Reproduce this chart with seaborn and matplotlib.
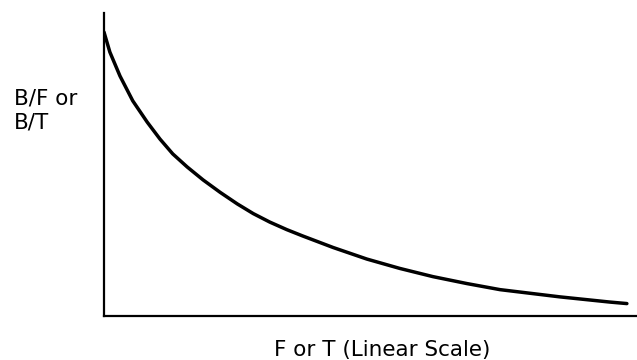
import seaborn as sns
import matplotlib.pyplot as plt
import pandas as pd

# Curve (arbitrary linear units, axes run 0-10)
conc = [0, 0.11, 0.30, 0.54, 0.81, 1.05, 1.29, 1.56, 1.86, 2.18, 2.50, 2.80,
        3.11, 3.43, 3.73, 4.30, 4.93, 5.55, 6.17, 6.81, 7.43, 8.56, 9.49, 9.81]
ratio = [9.37, 8.71, 7.92, 7.10, 6.40, 5.84, 5.35, 4.92, 4.49, 4.08, 3.70, 3.38,
         3.10, 2.85, 2.64, 2.26, 1.88, 1.57, 1.30, 1.07, 0.87, 0.63, 0.46, 0.41]

x_label = "F or T (Linear Scale)"
y_label = "B/F or\nB/T"

sns.set_style("white")
plt.rcParams['font.family'] = ['DejaVu Sans']

df = pd.DataFrame({"conc": conc, "ratio": ratio})

fig = plt.figure(figsize=(6.37, 3.6), dpi=100)
ax = fig.add_axes([104 / 637, 1 - 316 / 360, 1 - 104 / 637, (316 - 13) / 360])

sns.lineplot(data=df, x="conc", y="ratio", sort=False, color="black",
             linewidth=2.5, solid_joinstyle="round", ax=ax)

ax.set_xlim(0, 10)
ax.set_ylim(0, 10)
ax.set_xticks([])
ax.set_yticks([])
ax.set_xlabel("")
ax.set_ylabel("")
sns.despine(ax=ax)
for side in ["left", "bottom"]:
    ax.spines[side].set_linewidth(1.6)
    ax.spines[side].set_color("black")

fig.text(382 / 637, 1 - 356 / 360, x_label, ha="center", va="baseline",
         fontsize=15.5, color="black")
fig.text(14 / 637, 1 - 88 / 360, y_label, ha="left", va="top",
         fontsize=15.5, color="black", linespacing=1.3)

fig.savefig("out.png", dpi=100)
